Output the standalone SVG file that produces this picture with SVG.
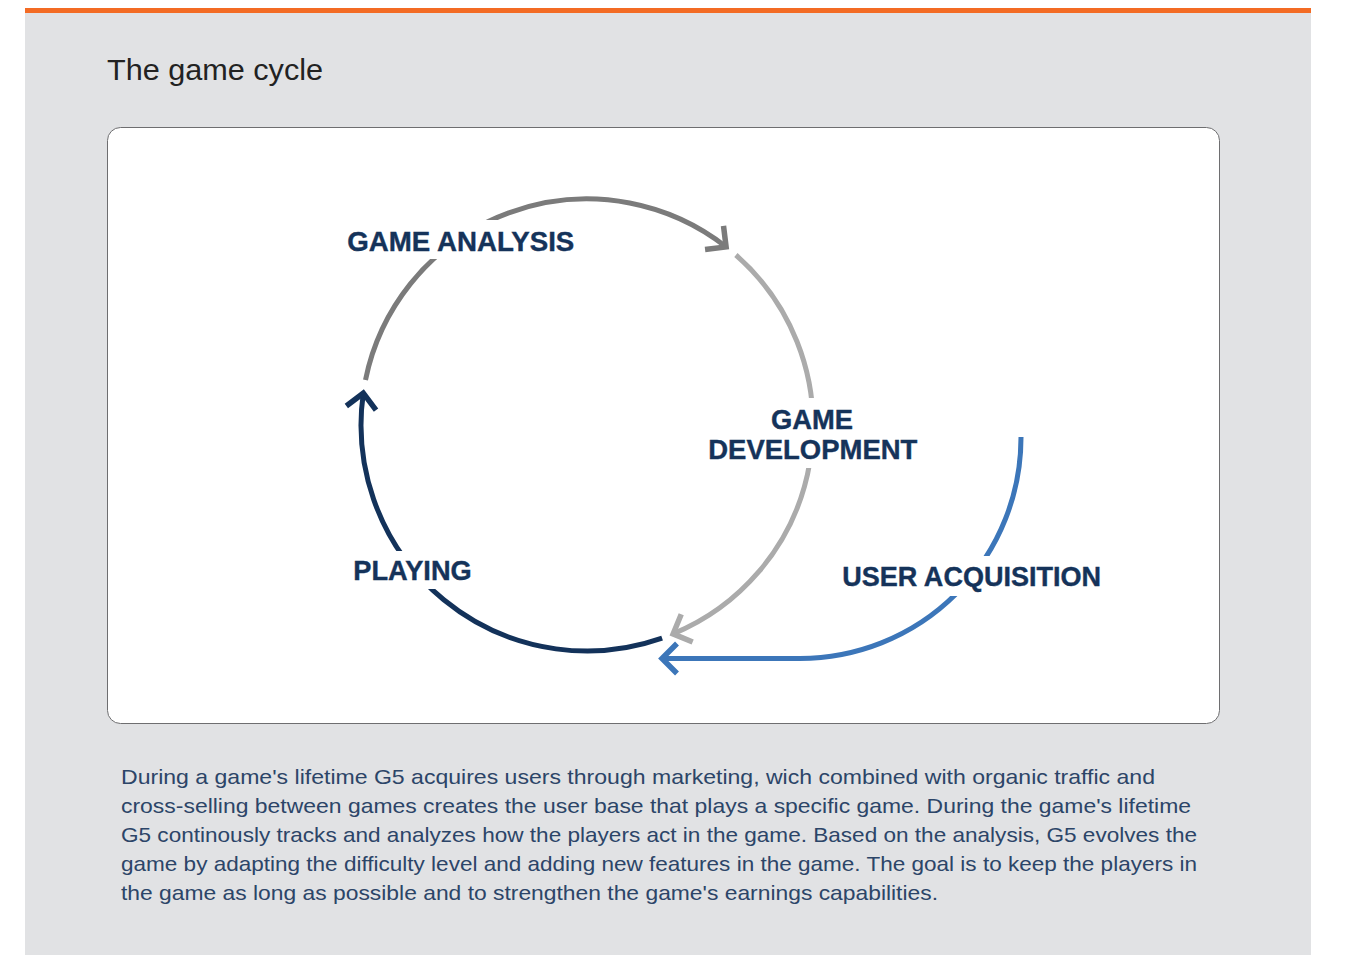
<svg xmlns="http://www.w3.org/2000/svg" width="1345" height="955" viewBox="0 0 1345 955">
  <style>
    .label { font-family: "Liberation Sans", Arial, sans-serif; font-weight: bold; font-size: 28px; fill: #15335a; stroke: #15335a; stroke-width: 0.4px; }
    .knock { fill: #ffffff; }
    .title { font-family: "Liberation Sans", Arial, sans-serif; font-size: 29px; fill: #222222; }
    .body { font-family: "Liberation Sans", Arial, sans-serif; font-size: 21px; fill: #2c4568; }
    .arc { fill: none; stroke-width: 5; }
  </style>
  <defs>
    <marker id="head-dark" viewBox="-25 -25 35 50" markerWidth="35" markerHeight="50" refX="0" refY="0" orient="auto" markerUnits="userSpaceOnUse">
      <path d="M-15,-15 L0,0 L-15,15" fill="none" stroke="#7b7b7b" stroke-width="5.5"/>
    </marker>
    <marker id="head-light" viewBox="-25 -25 35 50" markerWidth="35" markerHeight="50" refX="0" refY="0" orient="auto" markerUnits="userSpaceOnUse">
      <path d="M-15,-15 L0,0 L-15,15" fill="none" stroke="#ababab" stroke-width="5.5"/>
    </marker>
    <marker id="head-navy" viewBox="-25 -25 35 50" markerWidth="35" markerHeight="50" refX="0" refY="0" orient="auto" markerUnits="userSpaceOnUse">
      <path d="M-15,-15 L0,0 L-15,15" fill="none" stroke="#13325a" stroke-width="5.5"/>
    </marker>
    <marker id="head-blue" viewBox="-25 -25 35 50" markerWidth="35" markerHeight="50" refX="0" refY="0" orient="auto" markerUnits="userSpaceOnUse">
      <path d="M-15,-15 L0,0 L-15,15" fill="none" stroke="#3c76b9" stroke-width="5.5"/>
    </marker>
  </defs>

  <!-- page background and accent bar -->
  <rect x="25" y="8" width="1286" height="947" fill="#e1e2e4"/>
  <rect x="25" y="8" width="1286" height="5" fill="#f36b24"/>

  <text class="title" x="107" y="80" textLength="216" lengthAdjust="spacingAndGlyphs">The game cycle</text>

  <!-- diagram panel -->
  <rect x="107.5" y="127.5" width="1112" height="596" rx="13" ry="13" fill="#ffffff" stroke="#6e6e70" stroke-width="1"/>

  <g id="connectors">
    <path class="arc" stroke="#7b7b7b" d="M365.5,379.9 A226,226 0 0 1 726.1,246.9" marker-end="url(#head-dark)"/>
    <path class="arc" stroke="#ababab" d="M735.9,255 A226,226 0 0 1 673.1,633.9" marker-end="url(#head-light)"/>
    <path class="arc" stroke="#13325a" d="M662.1,638.2 A226,226 0 0 1 363.3,393.2" marker-end="url(#head-navy)"/>
    <path class="arc" stroke="#3c76b9" d="M1021,437 A221,221 0 0 1 800,658.5 L662,658.5" marker-end="url(#head-blue)"/>
  </g>

  <g id="game-analysis">
    <rect class="knock" x="340" y="220" width="242" height="39"/>
    <text class="label" x="347.3" y="250.5" textLength="227" lengthAdjust="spacingAndGlyphs">GAME ANALYSIS</text>
  </g>

  <g id="game-development">
    <rect class="knock" x="700" y="398" width="225" height="70"/>
    <text class="label" x="771" y="429.3" textLength="82" lengthAdjust="spacingAndGlyphs">GAME</text>
    <text class="label" x="708.3" y="459" textLength="209" lengthAdjust="spacingAndGlyphs">DEVELOPMENT</text>
  </g>

  <g id="playing">
    <rect class="knock" x="345" y="551" width="135" height="38"/>
    <text class="label" x="353.3" y="580" textLength="118.4" lengthAdjust="spacingAndGlyphs">PLAYING</text>
  </g>

  <g id="user-acquisition">
    <rect class="knock" x="835" y="556" width="274" height="40"/>
    <text class="label" x="842.3" y="585.7" textLength="258.7" lengthAdjust="spacingAndGlyphs">USER ACQUISITION</text>
  </g>

  <!-- description -->
  <g id="description">
    <text class="body" x="121" y="784" textLength="1034" lengthAdjust="spacingAndGlyphs">During a game's lifetime G5 acquires users through marketing, wich combined with organic traffic and</text>
    <text class="body" x="121" y="813" textLength="1070" lengthAdjust="spacingAndGlyphs">cross-selling between games creates the user base that plays a specific game. During the game's lifetime</text>
    <text class="body" x="121" y="842" textLength="1076" lengthAdjust="spacingAndGlyphs">G5 continously tracks and analyzes how the players act in the game. Based on the analysis, G5 evolves the</text>
    <text class="body" x="121" y="871" textLength="1076" lengthAdjust="spacingAndGlyphs">game by adapting the difficulty level and adding new features in the game. The goal is to keep the players in</text>
    <text class="body" x="121" y="900" textLength="817" lengthAdjust="spacingAndGlyphs">the game as long as possible and to strengthen the game's earnings capabilities.</text>
  </g>
</svg>
